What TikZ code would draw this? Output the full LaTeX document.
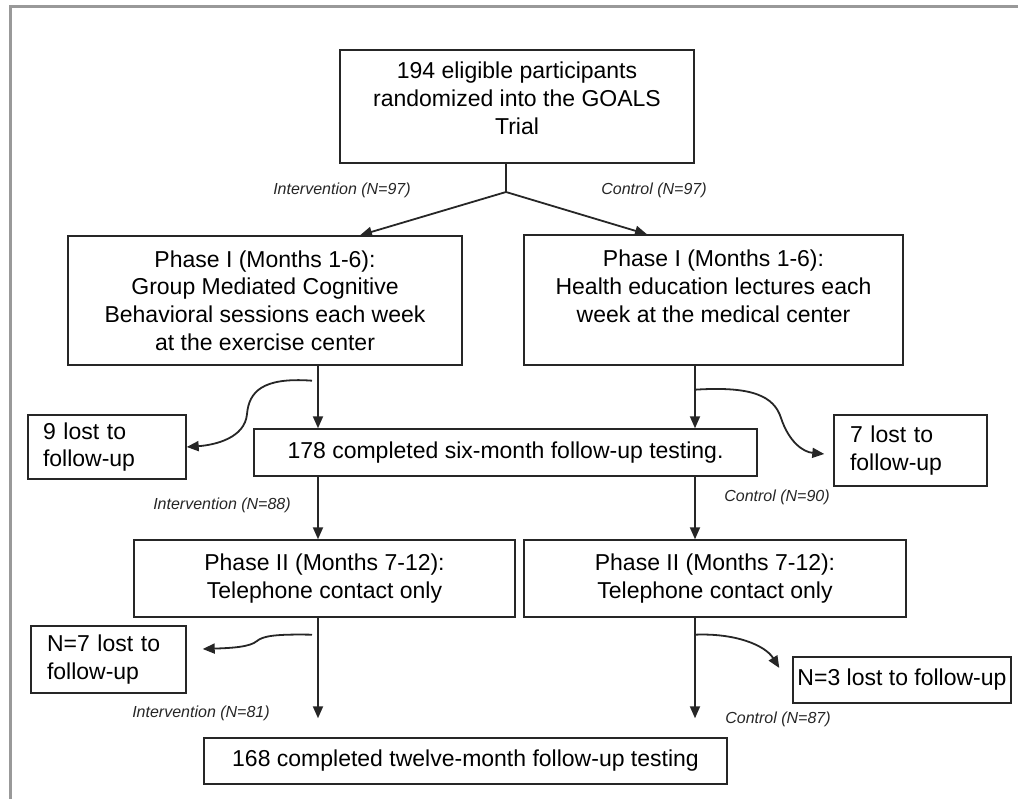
\documentclass[tikz,border=0pt]{standalone}
\usepackage{fontspec}
\setmainfont{Liberation Sans}
\usepackage{tikz}
\usetikzlibrary{positioning,calc,arrows.meta}

\begin{document}
\begin{tikzpicture}[x=1pt, y=-1pt, >={Triangle[length=12pt,width=10pt]},
  box/.style={draw=black!85, line width=1.4pt, inner sep=0pt, align=center,
    font=\fontsize{23}{27.6}\selectfont},
  lostbox/.style={box, inner xsep=15pt, align=left},
  grp/.style={font=\fontsize{16}{19}\selectfont\itshape, text=black!85},
  flow/.style={->, line width=1.8pt, draw=black!85}]
  \useasboundingbox (0,0) rectangle (1018,799);
  % frame
  \draw[black!40, line width=3pt] (10,799) -- (10,7) -- (1018,7);

  % boxes
  \node (top) [box, minimum width=354pt, minimum height=113pt] at (517,106.5)
    {194 eligible participants\\randomized into the GOALS\\Trial\\[-11pt]\mbox{}};
  \node (ph1L) [box, minimum width=394pt, minimum height=129pt] at (265,300.5)
    {Phase I (Months 1-6):\\Group Mediated Cognitive\\Behavioral sessions each week\\at the exercise center};
  \node (ph1R) [box, minimum width=379pt, minimum height=130pt] at (713.5,300)
    {Phase I (Months 1-6):\\Health education lectures each\\week at the medical center\\\mbox{}};
  \node (lost9) [lostbox, text width=128pt, minimum height=64pt] at (107,447)
    {9 lost to\\follow-up};
  \node (six) [box, minimum width=503pt, minimum height=47pt] at (505.5,452.5)
    {178 completed six-month follow-up testing.};
  \node (lost7) [lostbox, inner xsep=16pt, text width=121pt, minimum height=71pt] at (910.5,450.5)
    {7 lost to\\follow-up};
  \node (ph2L) [box, minimum width=381pt, minimum height=77pt] at (324.5,578.5)
    {Phase II (Months 7-12):\\Telephone contact only};
  \node (ph2R) [box, minimum width=382pt, minimum height=77pt] at (715,578.5)
    {Phase II (Months 7-12):\\Telephone contact only};
  \node (lostN7) [lostbox, inner xsep=16pt, text width=123pt, minimum height=67pt] at (108.5,659.5)
    {N=7 lost to\\follow-up};
  \node (lostN3) [box, minimum width=218pt, minimum height=46pt] at (902,680)
    {N=3 lost to follow-up};
  \node (final) [box, minimum width=523pt, minimum height=46pt] at (465.5,761)
    {168 completed twelve-month follow-up testing};

  % group labels
  \node (intA) [grp] at (342,190) {Intervention (N=97)};
  \node (conA) [grp] at (654,190) {Control (N=97)};
  \node (intB) [grp] at (222,505) {Intervention (N=88)};
  \node (conB) [grp] at (777,497) {Control (N=90)};
  \node (intC) [grp] at (201,713) {Intervention (N=81)};
  \node (conC) [grp] at (778,719) {Control (N=87)};

  % connectors
  \coordinate (split) at (506,192);
  \coordinate (cl) at (318,0);
  \coordinate (cr) at (695,0);
  \draw[line width=1.4pt, black!85] (top.south -| split) -- (split);
  \draw[flow] (split) -- ([xshift=95pt]ph1L.north);
  \draw[flow] (split) -- ([xshift=-66.5pt]ph1R.north);
  \draw[flow] (ph1L.south -| cl) -- (six.north -| cl);
  \draw[flow] (ph1R.south -| cr) -- (six.north -| cr);
  \draw[flow] ($(ph1L.south -| cl)+(-6,15)$) .. controls (262,377) and (249,392) .. (247,414)
    .. controls (245,438) and (215,445) .. (lost9.east);
  \draw[flow] ($(ph1R.south -| cr)+(0,24)$) .. controls (752,386) and (774,396) .. (781,418)
    .. controls (789,442) and (803,452) .. ($(lost7.west)+(-9,3.5)$);
  \draw[flow] (six.south -| cl) -- (ph2L.north -| cl);
  \draw[flow] (six.south -| cr) -- (ph2R.north -| cr);
  \draw[flow] ($(ph2L.south -| cl)+(-6,17)$) .. controls (275,634) and (263,636) .. (257,641)
    .. controls (250,647) and (232,648) .. ($(lostN7.east)+(16,-10.5)$);
  \draw[flow] ($(ph2R.south -| cr)+(0,17)$) .. controls (735,633) and (765,645) .. ($(lostN3.west)+(-13,-12)$);
  \draw[flow] (ph2L.south -| cl) -- ($(final.north -| cl)+(0,-19)$);
  \draw[flow] (ph2R.south -| cr) -- ($(final.north -| cr)+(0,-19)$);
\end{tikzpicture}
\end{document}
